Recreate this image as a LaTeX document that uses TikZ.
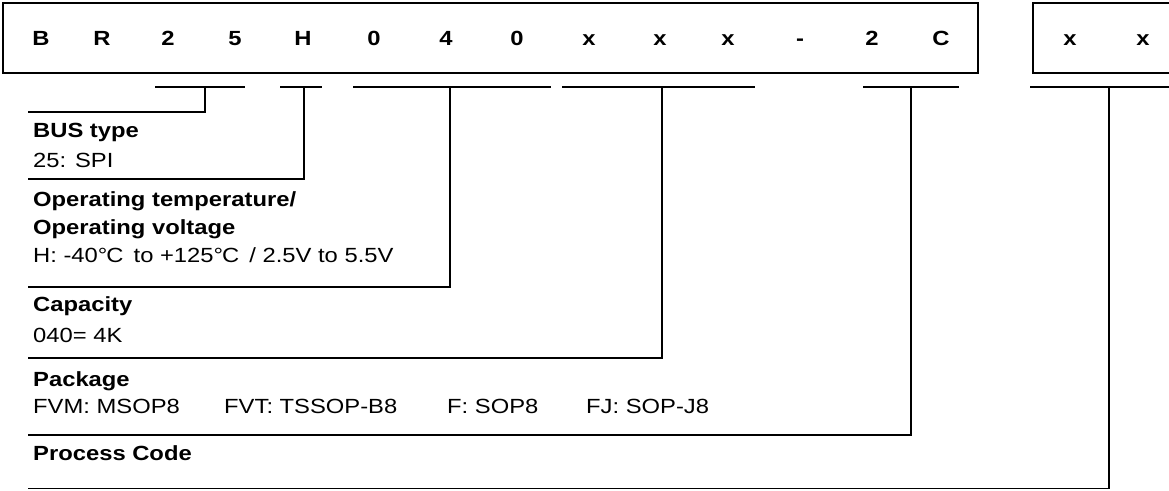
\documentclass[tikz,border=0pt]{standalone}
\usepackage{fontspec}
\setmainfont[FakeStretch=1.16]{Liberation Sans}
\begin{document}
\begin{tikzpicture}[x=1pt,y=-1pt,
  frame/.style={draw=black,line width=2.2pt},
  conn/.style={draw=black,line width=1.3pt},
  ch/.style={anchor=base,inner sep=0pt,font=\fontsize{20.5}{24}\selectfont\bfseries},
  lbl/.style={anchor=base west,inner sep=0pt,font=\fontsize{20.5}{24}\selectfont},
  hd/.style={lbl,font=\fontsize{20.5}{24}\selectfont\bfseries}]
\useasboundingbox (0,0) rectangle (1169,490);
\clip (0,0) rectangle (1169,490);
% boxes
\draw[frame] (3,3) rectangle (978,73);
\draw[frame] (1033,3) rectangle (1190,73);
% characters
\foreach \n/\x/\t in {c1/41/B,c2/102/R,c3/168/2,c4/235/5,c5/303/H,c6/374/0,c7/446/4,c8/517/0,c9/589/x,c10/660/x,c11/728/x,c12/800/-,c13/872/2,c14/941/C,c15/1070/x,c16/1143/x}
  \node[ch] (\n) at (\x,45) {\t};
% labels
\node[hd] (bus) at (33,137) {BUS type};
\node[lbl] (busv) at (33,167) {25: SPI};
\node[hd] (op1) at (33,206) {Operating temperature/};
\node[hd] (op2) at (33,234) {Operating voltage};
\node[lbl] (opv) at (33,262) {H: -40°\kern-1ptC\, to +125°\kern-1ptC\, / 2.5V to 5.5V};
\node[hd] (cap) at (33,311) {Capacity};
\node[lbl] (capv) at (33,342) {040= 4K};
\node[hd] (pkg) at (33,386) {Package};
\node[lbl] (pk1) at (33,413) {FVM: MSOP8};
\node[lbl] (pk2) at (224,413) {FVT: TSSOP-B8};
\node[lbl] (pk3) at (447,413) {F: SOP8};
\node[lbl] (pk4) at (586,413) {FJ: SOP-J8};
\node[hd] (proc) at (33,460) {Process Code};
% underline groups and connectors
\coordinate (u1a) at (155,87); \coordinate (u1b) at (245,87); \coordinate (u1m) at (205,87);
\coordinate (l1) at (28,112); \coordinate (k1) at (205,112);
\draw[conn] (u1a) -- (u1b); \draw[conn] (u1m) -- (k1) -- (l1);
\coordinate (u2a) at (280,87); \coordinate (u2b) at (322,87); \coordinate (u2m) at (304,87);
\coordinate (l2) at (28,179); \coordinate (k2) at (304,179);
\draw[conn] (u2a) -- (u2b); \draw[conn] (u2m) -- (k2) -- (l2);
\coordinate (u3a) at (353,87); \coordinate (u3b) at (551,87); \coordinate (u3m) at (450,87);
\coordinate (l3) at (28,287); \coordinate (k3) at (450,287);
\draw[conn] (u3a) -- (u3b); \draw[conn] (u3m) -- (k3) -- (l3);
\coordinate (u4a) at (562,87); \coordinate (u4b) at (755,87); \coordinate (u4m) at (662,87);
\coordinate (l4) at (28,358); \coordinate (k4) at (662,358);
\draw[conn] (u4a) -- (u4b); \draw[conn] (u4m) -- (k4) -- (l4);
\coordinate (u5a) at (863,87); \coordinate (u5b) at (959,87); \coordinate (u5m) at (911,87);
\coordinate (l5) at (28,435); \coordinate (k5) at (911,435);
\draw[conn] (u5a) -- (u5b); \draw[conn] (u5m) -- (k5) -- (l5);
\coordinate (u6a) at (1030,87); \coordinate (u6b) at (1190,87); \coordinate (u6m) at (1109,87);
\coordinate (l6) at (28,488.5); \coordinate (k6) at (1109,488.5);
\draw[conn] (u6a) -- (u6b); \draw[conn] (u6m) -- (k6) -- (l6);
\end{tikzpicture}
\end{document}
